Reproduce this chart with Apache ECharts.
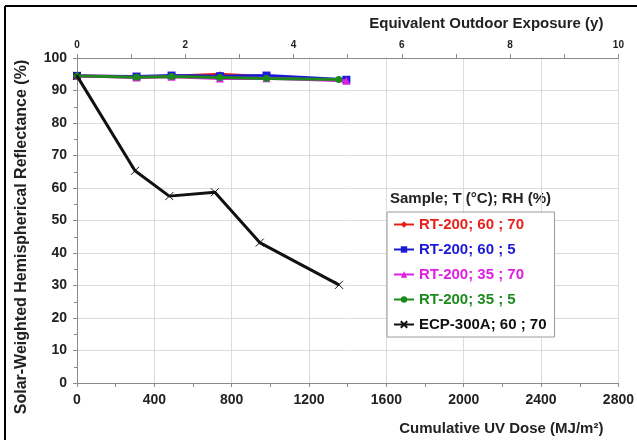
<!DOCTYPE html>
<html>
<head>
<meta charset="utf-8">
<script src="https://cdn.jsdelivr.net/npm/echarts@6/dist/echarts.min.js"></script>
<style>html,body{margin:0;padding:0;background:#fff}#c{width:637px;height:440px}</style>
</head>
<body>
<div id="c"></div>
<script>
// Data
const seriesNames = ['RT-200; 60 ; 70', 'RT-200; 60 ; 5', 'RT-200; 35 ; 70', 'RT-200; 35 ; 5', 'ECP-300A; 60 ; 70'];
const doseRT = [0, 308, 489, 739, 980, 1393];
const doseGreen = [0, 308, 489, 739, 980, 1354];
const doseECP = [0, 300, 477, 713, 945, 1355];
const rt6070 = [94.5, 94.2, 94.4, 95.0, 94.2, 93.1];
const rt605 = [94.5, 94.3, 94.6, 94.4, 94.6, 93.3];
const rt3570 = [94.5, 94.0, 94.2, 93.7, 93.8, 93.0];
const rt355 = [94.5, 94.1, 94.3, 94.0, 93.7, 93.4];
const ecp6070 = [94.5, 65.3, 57.5, 58.7, 43.2, 30.2];
const doseTicks = [0, 2800, 400];      // min, max, interval (MJ/m²)
const yearTicks = [0, 10, 2];          // min, max, interval (y)
const reflTicks = [0, 100, 10];        // min, max, interval (%)

const colors = ['#e8201c', '#1a1ad6', '#e020e0', '#1e8a1e', '#111111'];
const symbols = ['diamond', 'rect', 'triangle', 'circle', 'path://M0,0L10,10M10,0L0,10'];
const symSizes = [6, 8, 8, 7, 8];
const xs = [doseRT, doseRT, doseRT, doseGreen, doseECP];
const ys = [rt6070, rt605, rt3570, rt355, ecp6070];

const FONT = 'Liberation Sans, Arial, sans-serif';
const TXT = '#222';

const series = seriesNames.map((n, i) => ({
  name: n,
  type: 'line',
  xAxisIndex: 0,
  yAxisIndex: 0,
  data: xs[i].map((x, j) => [x, ys[i][j]]),
  symbol: symbols[i],
  symbolSize: symSizes[i],
  showSymbol: true,
  lineStyle: { color: colors[i], width: 3 },
  itemStyle: { color: colors[i], borderColor: colors[i], borderWidth: i === 4 ? 1 : 0 },
  z: i === 4 ? 5 : 2 + i * 0.1,
  animation: false
}));

const chart = echarts.init(document.getElementById('c'), null, { renderer: 'canvas' });
chart.setOption({
  backgroundColor: '#fff',
  animation: false,
  grid: { left: 77, right: 18, top: 58, bottom: 57, containLabel: false },
  xAxis: [{
    type: 'value', position: 'bottom',
    min: doseTicks[0], max: doseTicks[1], interval: doseTicks[2],
    name: 'Cumulative UV Dose (MJ/m²)', nameLocation: 'end', nameGap: -15,
    nameTextStyle: { fontFamily: FONT, fontWeight: 'bold', fontSize: 15, color: TXT, align: 'right', verticalAlign: 'top', padding: [38, 0, 0, 0] },
    axisLine: { show: true, lineStyle: { color: '#8a8a8a', width: 1 } },
    axisTick: { show: true, length: 4, lineStyle: { color: '#8a8a8a' } },
    minorTick: { show: true, splitNumber: 2, length: 4, lineStyle: { color: '#8a8a8a' } },
    axisLabel: { fontFamily: FONT, fontWeight: 'bold', fontSize: 14, color: TXT, margin: 10, formatter: v => String(v) },
    splitLine: { show: true, lineStyle: { color: '#dcdcdc', width: 1 } }
  }, {
    type: 'value', position: 'top',
    min: yearTicks[0], max: yearTicks[1], interval: yearTicks[2],
    name: 'Equivalent Outdoor Exposure (y)', nameLocation: 'end', nameGap: -15,
    nameTextStyle: { fontFamily: FONT, fontWeight: 'bold', fontSize: 15, color: TXT, align: 'right', verticalAlign: 'bottom', padding: [0, 0, 27, 0] },
    axisLine: { show: true, lineStyle: { color: '#8a8a8a', width: 1 } },
    axisTick: { show: true, length: 4, lineStyle: { color: '#8a8a8a' } },
    minorTick: { show: true, splitNumber: 2, length: 4, lineStyle: { color: '#8a8a8a' } },
    axisLabel: { fontFamily: FONT, fontWeight: 'bold', fontSize: 10, color: TXT, margin: 8, formatter: v => String(v) },
    splitLine: { show: false }
  }],
  yAxis: [{
    type: 'value',
    min: reflTicks[0], max: reflTicks[1], interval: reflTicks[2],
    axisLine: { show: true, lineStyle: { color: '#8a8a8a', width: 1 } },
    axisTick: { show: true, length: 4, lineStyle: { color: '#8a8a8a' } },
    minorTick: { show: true, splitNumber: 2, length: 3, lineStyle: { color: '#8a8a8a' } },
    axisLabel: { fontFamily: FONT, fontWeight: 'bold', fontSize: 14, color: TXT, margin: 10 },
    splitLine: { show: true, lineStyle: { color: '#dcdcdc', width: 1 } }
  }],
  legend: {
    orient: 'vertical', left: 387, top: 212,
    backgroundColor: '#fff', borderColor: '#9a9a9a', borderWidth: 1,
    padding: [5, 8, 5, 6], itemGap: 10, itemWidth: 20, itemHeight: 8,
    textStyle: { fontFamily: FONT, fontWeight: 'bold', fontSize: 15 },
    data: seriesNames.map((n, i) => ({ name: n, textStyle: { color: colors[i] } }))
  },
  graphic: [
    { type: 'text', left: 390, top: 191, style: { text: 'Sample; T (°C); RH (%)', font: 'bold 15px ' + FONT, fill: TXT } },
    { type: 'text', x: 22, y: 237, rotation: Math.PI / 2, style: { text: 'Solar-Weighted Hemispherical Reflectance (%)', font: 'bold 16px ' + FONT, fill: TXT, align: 'center', verticalAlign: 'middle' } },
    { type: 'line', shape: { x1: 5, y1: 6, x2: 5, y2: 440 }, style: { stroke: '#000', lineWidth: 2 } },
    { type: 'line', shape: { x1: 5, y1: 6, x2: 637, y2: 6 }, style: { stroke: '#000', lineWidth: 2 } }
  ],
  series: series
});
</script>
</body>
</html>
